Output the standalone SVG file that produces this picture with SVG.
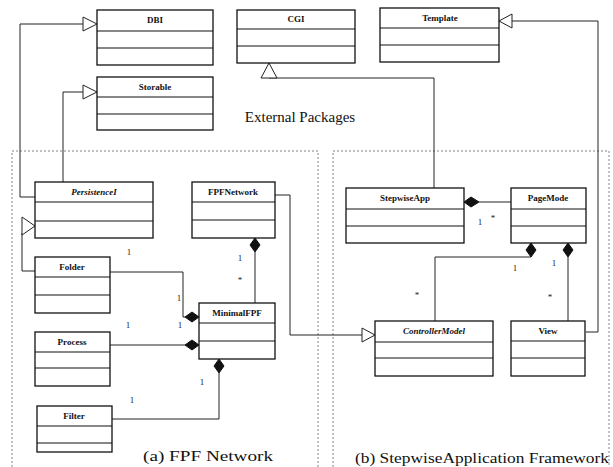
<svg xmlns="http://www.w3.org/2000/svg" width="613" height="467" viewBox="0 0 613 467">
<defs>
<style>
.box{fill:#fff;stroke:#111;stroke-width:1.3}
.sep{stroke:#111;stroke-width:1.2}
.t{font-family:"Liberation Serif","Times New Roman",serif;font-size:9px;font-weight:bold;text-anchor:middle;fill:#111}
.ti{font-style:italic}
.c{fill:none;stroke:#222;stroke-width:1}
.pkg{fill:none;stroke:#666;stroke-width:0.8;stroke-dasharray:2,2}
.tri{fill:#fff;stroke:#222;stroke-width:1}
.dia{fill:#111;stroke:#111;stroke-width:1}
.m{font-family:"Liberation Serif","Times New Roman",serif;font-size:9px;text-anchor:middle;fill:#222}
.cap{font-family:"Liberation Serif","Times New Roman",serif;font-size:15px;fill:#111}
</style>
</defs>
<rect width="613" height="467" fill="#fff"/>
<g id="packages">
<polyline class="pkg" points="12,467 12,151 318,151 318,467"/>
<polyline class="pkg" points="333,467 333,151 609,151 609,467"/>
<text class="cap" x="300" y="122" text-anchor="middle">External Packages</text>
<text class="cap" x="143" y="461" textLength="130" lengthAdjust="spacingAndGlyphs">(a) FPF Network</text>
<text class="cap" x="355" y="463" textLength="254" lengthAdjust="spacingAndGlyphs">(b) StepwiseApplication Framework</text>
</g>
<g id="connectors">
<polyline class="c" points="35,197 20,197 20,24 83,24"/>
<polygon class="tri" points="83,17 97,24 83,31"/>
<polyline class="c" points="63,182 63,92 83,92"/>
<polygon class="tri" points="83,85 97,92 83,99"/>
<polyline class="c" points="434,188 434,78 269,78"/>
<polygon class="tri" points="261,78 269,63 277,78"/>
<polyline class="c" points="586,332 598,332 598,21 512,21"/>
<polygon class="tri" points="512,14 499,21 512,28"/>
<polyline class="c" points="35,271 22,271 22,233"/>
<polygon class="tri" points="22,217 35,226 22,235"/>
<polyline class="c" points="275,195 290,195 290,335 362,335"/>
<polygon class="tri" points="362,328 375,335 362,342"/>
<polyline class="c" points="110,272 183,272 183,317 185,317"/>
<polygon class="dia" points="185,317 192,312 199,317 192,322"/>
<line class="c" x1="110" y1="345" x2="185" y2="345"/>
<polygon class="dia" points="185,345 192,340 199,345 192,350"/>
<polyline class="c" points="112,419 219,419 219,373"/>
<polygon class="dia" points="219,359 224,366 219,373 214,366"/>
<line class="c" x1="255" y1="252" x2="255" y2="303"/>
<polygon class="dia" points="255,238 260,245 255,252 250,245"/>
<line class="c" x1="479" y1="202" x2="511" y2="202"/>
<polygon class="dia" points="464,202 471,197 479,202 471,207"/>
<polyline class="c" points="531,257 435,257 435,321"/>
<polygon class="dia" points="531,243 536,250 531,257 526,250"/>
<line class="c" x1="568" y1="257" x2="568" y2="321"/>
<polygon class="dia" points="568,243 573,250 568,257 563,250"/>
<text class="m" x="129" y="255">1</text>
<text class="m" x="179" y="301">1</text>
<text class="m" x="180" y="328">1</text>
<text class="m" x="128" y="328">1</text>
<text class="m" x="202" y="385">1</text>
<text class="m" x="132" y="403">1</text>
<text class="m" x="240" y="261">1</text>
<text class="m" x="240" y="283">*</text>
<text class="m" x="480" y="225">1</text>
<text class="m" x="493" y="221">*</text>
<text class="m" x="515" y="271">1</text>
<text class="m" x="554" y="266">1</text>
<text class="m" x="550" y="300">*</text>
<text class="m" x="417" y="298">*</text>
</g>
<g id="DBI">
<rect class="box" x="97" y="10" width="116" height="55"/>
<line class="sep" x1="97" y1="31" x2="213" y2="31"/><line class="sep" x1="97" y1="48" x2="213" y2="48"/>
<text class="t" x="155" y="23">DBI</text>
</g>
<g id="Storable">
<rect class="box" x="97" y="77" width="116" height="53"/>
<line class="sep" x1="97" y1="97" x2="213" y2="97"/><line class="sep" x1="97" y1="114" x2="213" y2="114"/>
<text class="t" x="155" y="90">Storable</text>
</g>
<g id="CGI">
<rect class="box" x="237" y="10" width="118" height="53"/>
<line class="sep" x1="237" y1="29" x2="355" y2="29"/><line class="sep" x1="237" y1="46" x2="355" y2="46"/>
<text class="t" x="296" y="22">CGI</text>
</g>
<g id="Template">
<rect class="box" x="380" y="8" width="119" height="54"/>
<line class="sep" x1="380" y1="28" x2="499" y2="28"/><line class="sep" x1="380" y1="45" x2="499" y2="45"/>
<text class="t" x="440" y="21">Template</text>
</g>
<g id="PersistenceI">
<rect class="box" x="35" y="182" width="118" height="56"/>
<line class="sep" x1="35" y1="202" x2="153" y2="202"/><line class="sep" x1="35" y1="221" x2="153" y2="221"/>
<text class="t ti" x="94" y="195">PersistenceI</text>
</g>
<g id="FPFNetwork">
<rect class="box" x="192" y="182" width="83" height="56"/>
<line class="sep" x1="192" y1="202" x2="275" y2="202"/><line class="sep" x1="192" y1="220" x2="275" y2="220"/>
<text class="t" x="233" y="195">FPFNetwork</text>
</g>
<g id="Folder">
<rect class="box" x="35" y="257" width="75" height="56"/>
<line class="sep" x1="35" y1="277" x2="110" y2="277"/><line class="sep" x1="35" y1="295" x2="110" y2="295"/>
<text class="t" x="72" y="270">Folder</text>
</g>
<g id="MinimalFPF">
<rect class="box" x="199" y="303" width="76" height="56"/>
<line class="sep" x1="199" y1="323" x2="275" y2="323"/><line class="sep" x1="199" y1="341" x2="275" y2="341"/>
<text class="t" x="237" y="316">MinimalFPF</text>
</g>
<g id="Process">
<rect class="box" x="35" y="332" width="75" height="54"/>
<line class="sep" x1="35" y1="352" x2="110" y2="352"/><line class="sep" x1="35" y1="368" x2="110" y2="368"/>
<text class="t" x="72" y="345">Process</text>
</g>
<g id="Filter">
<rect class="box" x="37" y="406" width="75" height="46"/>
<line class="sep" x1="37" y1="426" x2="112" y2="426"/><line class="sep" x1="37" y1="443" x2="112" y2="443"/>
<text class="t" x="74" y="419">Filter</text>
</g>
<g id="StepwiseApp">
<rect class="box" x="346" y="188" width="118" height="55"/>
<line class="sep" x1="346" y1="209" x2="464" y2="209"/><line class="sep" x1="346" y1="226" x2="464" y2="226"/>
<text class="t" x="405" y="201">StepwiseApp</text>
</g>
<g id="PageMode">
<rect class="box" x="511" y="188" width="75" height="55"/>
<line class="sep" x1="511" y1="209" x2="586" y2="209"/><line class="sep" x1="511" y1="226" x2="586" y2="226"/>
<text class="t" x="548" y="201">PageMode</text>
</g>
<g id="ControllerModel">
<rect class="box" x="375" y="321" width="118" height="55"/>
<line class="sep" x1="375" y1="342" x2="493" y2="342"/><line class="sep" x1="375" y1="358" x2="493" y2="358"/>
<text class="t ti" x="434" y="334">ControllerModel</text>
</g>
<g id="View">
<rect class="box" x="511" y="321" width="74" height="55"/>
<line class="sep" x1="511" y1="341" x2="585" y2="341"/><line class="sep" x1="511" y1="358" x2="585" y2="358"/>
<text class="t" x="548" y="334">View</text>
</g>
</svg>
